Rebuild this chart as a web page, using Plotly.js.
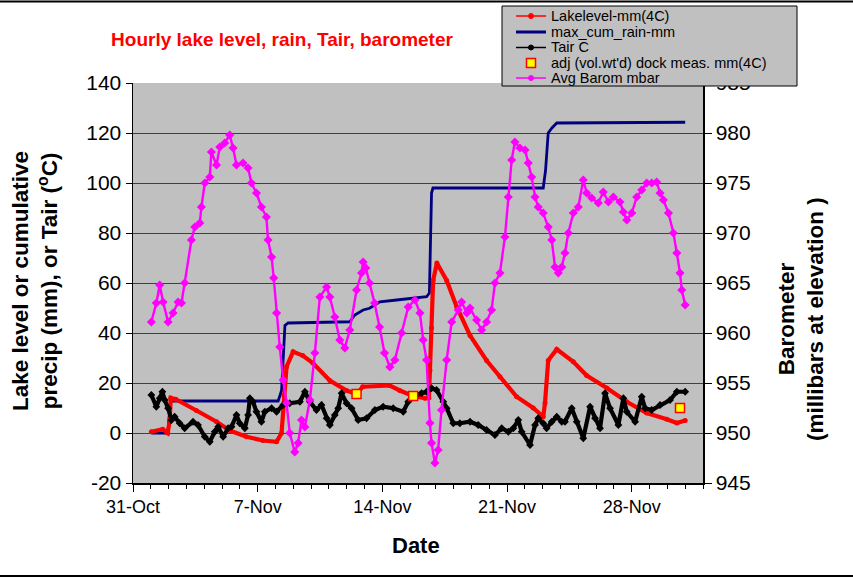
<!DOCTYPE html>
<html>
<head>
<meta charset="utf-8">
<script src="https://cdn.plot.ly/plotly-3.0.1.min.js"></script>
<style>html,body{margin:0;padding:0;background:#fff;}#chart{width:853px;height:578px;}</style>
</head>
<body>
<div id="chart"></div>
<script>
// ---- data (days after 31-Oct 00:00) ----
var lakeDays = [1.03,1.67,1.95,2.06,2.12,2.40,3.56,4.69,5.43,6.37,7.29,8.06,8.34,8.47,8.62,8.99,9.53,10.10,11.05,11.99,12.55,12.90,14.42,14.98,15.71,16.39,16.61,16.67,16.76,16.85,17.06,17.61,18.17,18.92,19.85,20.60,21.54,22.47,23.03,23.13,23.31,23.79,24.72,25.47,26.60,27.72,28.84,29.97,30.53,31.0];
var lakeMM   = [0.5,1.5,0,5,14,13.5,9,4.5,1,-1.5,-3,-3.5,0,15,26.5,32.5,31,28,21,17,15.6,18.5,19,17,14.8,13.9,14,25,42,61,68,61,50.5,39,29,22.5,14.5,10,6.5,12,29,33.5,28.5,23,18,12.5,8,5.5,4,5];

var rainDays = [1.03,1.95,2.12,8.15,8.34,8.53,8.71,12.17,12.45,12.92,13.28,13.86,14.8,15.73,16.48,16.64,16.76,16.84,23.03,23.16,23.31,23.52,23.79,31.0];
var rainMM   = [0,0,12.8,12.8,17,43,44,44.5,47.2,49.2,49.9,52.5,53.2,53.9,54.5,56,96,98,98,105,120,122,124,124.3];

var tairDays = [1.03,1.31,1.50,1.65,1.78,1.97,2.16,2.34,2.62,2.90,3.37,3.65,4.03,4.31,4.59,4.78,5.06,5.34,5.53,5.81,5.99,6.28,6.46,6.56,6.74,6.93,7.21,7.40,7.78,8.06,8.43,8.80,9.37,9.65,9.93,10.30,10.58,10.87,11.05,11.33,11.52,11.71,11.99,12.27,12.64,13.11,13.58,14.04,14.61,15.17,15.45,15.92,16.20,16.48,16.76,17.04,17.42,17.61,17.98,18.35,18.92,19.38,19.85,20.32,20.70,21.07,21.35,21.63,21.82,22.29,22.57,22.75,23.03,23.22,23.51,23.79,24.07,24.25,24.63,24.91,25.28,25.66,25.94,26.22,26.50,26.78,27.25,27.53,27.72,28.19,28.56,28.75,29.12,29.59,30.15,30.53,31.0];
var tairC    = [15.2,10.5,13.9,16.5,13.2,9.9,5.2,6.5,3.9,1.9,4.5,3.2,-1.5,-3.5,0.5,2.5,-1.5,1.9,2.5,7.2,3.9,1.9,7.2,13.9,12.5,8.5,4.5,8.5,9.9,8.5,11.2,11.9,12.5,16.5,12.5,9.2,11.2,5.9,3.2,7.2,9.9,15.9,11.9,9.9,5.2,5.9,9.2,10.5,9.9,8.5,12.5,15.2,15.9,16.5,17.9,17.2,12.5,9.9,3.9,3.9,4.5,3.2,1.2,-0.8,1.9,0.5,1.9,5.2,0.5,-4.8,3.2,5.9,3.9,1.9,4.5,6.5,4.5,4.5,9.9,4.5,-2.1,10.5,5.9,1.9,15.9,9.9,3.2,13.9,8.5,4.5,14.5,9.9,9.2,11.2,13.2,16.5,16.5];

var dockDays = [12.55,15.73,30.71];
var dockMM   = [15.6,14.8,10];

var baroDays = [1.03,1.31,1.50,1.69,1.97,2.25,2.53,2.72,2.90,3.28,3.47,3.75,3.84,4.03,4.31,4.40,4.69,4.87,5.15,5.43,5.62,5.81,6.18,6.46,6.65,6.93,7.21,7.49,7.58,7.78,7.90,8.06,8.24,8.43,8.62,8.80,9.08,9.27,9.46,9.65,9.93,10.21,10.49,10.87,11.05,11.33,11.61,11.89,12.17,12.55,12.83,12.92,13.07,13.28,13.56,13.84,14.12,14.42,14.70,15.08,15.45,15.83,16.11,16.29,16.48,16.67,16.76,16.95,17.13,17.32,17.61,17.89,18.26,18.45,18.74,18.92,19.29,19.57,19.85,20.13,20.32,20.60,20.88,21.07,21.26,21.44,21.72,22.01,22.19,22.38,22.57,22.75,23.03,23.31,23.51,23.69,23.88,24.07,24.25,24.44,24.72,25.00,25.28,25.47,25.75,26.12,26.40,26.69,26.97,27.34,27.53,27.72,28.00,28.28,28.56,28.84,29.12,29.40,29.59,29.78,30.06,30.34,30.53,30.71,30.81,31.0];
var baroMbar = [961.1,963,964.8,963.1,961.1,962,963.1,963,965,969.3,970.6,971,972.6,975,975.6,978.1,976.8,978.6,979,979.8,978.5,976.8,977,976.5,975,974,972.6,971.6,969.3,967.6,965.5,962,958.6,955.3,953,950,948.1,949,951.3,950.6,953.3,958,963.6,964.6,963.6,961.6,959.3,958.5,960.3,964.3,966,967.1,966.5,965,963,960.6,958,956.6,957.3,960,962.6,963.3,962,959.3,957.3,951,949,947,948.3,952.3,957.3,961.1,962.3,963.1,962,962.5,961.3,960.3,961.1,962.3,965,966,969.6,973.6,977.3,979.1,978.5,978.3,977,975.6,973.6,972.6,972,970.6,969.3,966.6,966,966.6,968,970,972,972.6,975.3,974,973.5,973,974.1,973.1,973.6,973.1,972.1,971.3,972,973.6,974.3,975,975,975.1,974,973.3,972,970,968,966,964.3,962.8];

var tickDays   = [0,7,14,21,28];
var tickLabels = ['31-Oct','7-Nov','14-Nov','21-Nov','28-Nov'];
var yTickVals  = [-20,0,20,40,60,80,100,120,140];
var yTickLabels = ['-20','0','20','40','60','80','100','120','140'];
var y2TickVals = [945,950,955,960,965,970,975,980,985];
var y2TickLabels = ['945','950','955','960','965','970','975','980','985'];

var seriesNames = ['Lakelevel-mm(4C)','max_cum_rain-mm','Tair C',"adj (vol.wt'd) dock meas. mm(4C)",'Avg Barom mbar'];

// ---- helpers ----
var BASE = Date.UTC(2007, 9, 31);
function toDate(d){ return BASE + d*86400000; }
function dates(arr){ return arr.map(toDate); }

var FONT = 'Liberation Sans, Arial, Helvetica, sans-serif';
// plot area in pixels
var PL = 133, PR = 703, PT = 83, PB = 483;
function px(x){ return (x-PL)/(PR-PL); }
function py(y){ return (PB-y)/(PB-PT); }

var traces = [
  {x: dates(rainDays), y: rainMM, name: seriesNames[1], type:'scatter', mode:'lines',
   line:{color:'#000080', width:2.8}, showlegend:false},
  {x: dates(lakeDays), y: lakeMM, name: seriesNames[0], type:'scatter', mode:'lines+markers',
   line:{color:'#ff0000', width:4.2}, marker:{color:'#ff0000', size:5}, showlegend:false},
  {x: dates(tairDays), y: tairC, name: seriesNames[2], type:'scatter', mode:'lines+markers',
   line:{color:'#000000', width:4.2}, marker:{color:'#000000', size:6, symbol:'diamond'}, showlegend:false},
  {x: dates(dockDays), y: dockMM, name: seriesNames[3], type:'scatter', mode:'markers',
   marker:{color:'#ffff00', size:9, symbol:'square', line:{color:'#ff0000', width:1.5}}, showlegend:false},
  {x: dates(baroDays), y: baroMbar, name: seriesNames[4], type:'scatter', mode:'lines+markers', yaxis:'y2',
   line:{color:'#ff00ff', width:2.4}, marker:{color:'#ff00ff', size:7, symbol:'diamond'}, showlegend:false}
];

// ---- custom legend (drawn in pixel positions) ----
var LX0 = 502, LX1 = 797, LY0 = 6, LY1 = 86;
var rowY = [16, 32, 47.5, 63, 78];
var sampX0 = 516, sampX1 = 546, sampXM = 531, textX = 549;
var shapes = [];
var annotations = [];
// frame lines of chart area
shapes.push({type:'line', xref:'paper', yref:'paper', x0:px(0), x1:px(853), y0:py(1.5), y1:py(1.5), line:{color:'#000', width:2}});
shapes.push({type:'line', xref:'paper', yref:'paper', x0:px(0), x1:px(853), y0:py(576), y1:py(576), line:{color:'#000', width:2}});
// legend box
shapes.push({type:'rect', xref:'paper', yref:'paper', layer:'above', x0:px(LX0), x1:px(LX1), y0:py(LY0), y1:py(LY1),
  fillcolor:'#c0c0c0', line:{color:'#000', width:1}});
var legCols = ['#ff0000','#000080','#000000',null,'#ff00ff'];
var legW = [1.5, 3, 1.5, 0, 1.5];
for (var i=0;i<5;i++){
  var yy = py(rowY[i]);
  if (legCols[i]) {
    shapes.push({type:'line', xref:'paper', yref:'paper', layer:'above', x0:px(sampX0), x1:px(sampX1), y0:yy, y1:yy,
      line:{color:legCols[i], width:legW[i]}});
  }
  if (i===0 || i===2 || i===4) {
    var r = 2.5;
    shapes.push({type:'circle', xref:'paper', yref:'paper', layer:'above',
      x0:px(sampXM-r), x1:px(sampXM+r), y0:py(rowY[i]+r), y1:py(rowY[i]-r),
      fillcolor:legCols[i], line:{color:legCols[i], width:1}});
  }
  if (i===3) {
    var s = 4.5;
    shapes.push({type:'rect', xref:'paper', yref:'paper', layer:'above',
      x0:px(sampXM-s), x1:px(sampXM+s), y0:py(rowY[i]+s), y1:py(rowY[i]-s),
      fillcolor:'#ffff00', line:{color:'#ff0000', width:1.5}});
  }
  annotations.push({xref:'paper', yref:'paper', x:px(textX), y:yy, xanchor:'left', yanchor:'middle',
    text: seriesNames[i], showarrow:false, font:{family:FONT, size:14.5, color:'#000'}});
}

// axis titles
annotations.push({xref:'paper', yref:'paper', x:px(35), y:py(281), xanchor:'center', yanchor:'middle', textangle:-90,
  showarrow:false, text:'<b>Lake level or cumulative<br>precip (mm), or Tair (<sup>o</sup>C)</b>',
  font:{family:FONT, size:22.5, color:'#000'}});
annotations.push({xref:'paper', yref:'paper', x:px(801), y:py(319), xanchor:'center', yanchor:'middle', textangle:-90,
  showarrow:false, text:'<b>Barometer<br>(millibars at elevation )</b>',
  font:{family:FONT, size:22.5, color:'#000'}});
annotations.push({xref:'paper', yref:'paper', x:px(416), y:py(545), xanchor:'center', yanchor:'middle',
  showarrow:false, text:'<b>Date</b>', font:{family:FONT, size:22, color:'#000'}});

var layout = {
  width:853, height:578,
  margin:{l:PL, r:853-PR, t:PT, b:578-PB, pad:0},
  paper_bgcolor:'#ffffff', plot_bgcolor:'#c0c0c0',
  font:{family:FONT, color:'#000'},
  showlegend:false,
  title:{text:'<b>Hourly lake level, rain, Tair, barometer</b>', x:282/853, y:1-39/578, xanchor:'center', yanchor:'middle',
    xref:'container', yref:'container', font:{family:FONT, size:19, color:'#ff0000'}},
  xaxis:{type:'date', range:[toDate(0), toDate(32)], tickmode:'array', tickvals:dates(tickDays), ticktext:tickLabels,
    ticks:'outside', ticklen:7, tickcolor:'#000', showline:true, linecolor:'#000', linewidth:1.5, showgrid:false, zeroline:false,
    tickfont:{family:FONT, size:18, color:'#000'},
    minor:{dtick:86400000, ticks:'outside', ticklen:4, tickcolor:'#000', showgrid:false}},
  yaxis:{range:[-20,140], tickmode:'array', tickvals:yTickVals, ticktext:yTickLabels, ticks:'outside', ticklen:6, tickcolor:'#000',
    showline:true, linecolor:'#000', linewidth:1.5,
    showgrid:true, gridcolor:'#404040', gridwidth:1, zeroline:false, tickfont:{family:FONT, size:21, color:'#000'}},
  yaxis2:{range:[945,985], tickmode:'array', tickvals:y2TickVals, ticktext:y2TickLabels, overlaying:'y', side:'right', ticks:'outside', ticklen:7, tickcolor:'#000',
    showline:true, linecolor:'#000', linewidth:1.5, showgrid:false, zeroline:false, tickfont:{family:FONT, size:21, color:'#000'}},
  shapes:shapes,
  annotations:annotations
};

Plotly.newPlot('chart', traces, layout, {staticPlot:true, displayModeBar:false});
</script>
</body>
</html>
